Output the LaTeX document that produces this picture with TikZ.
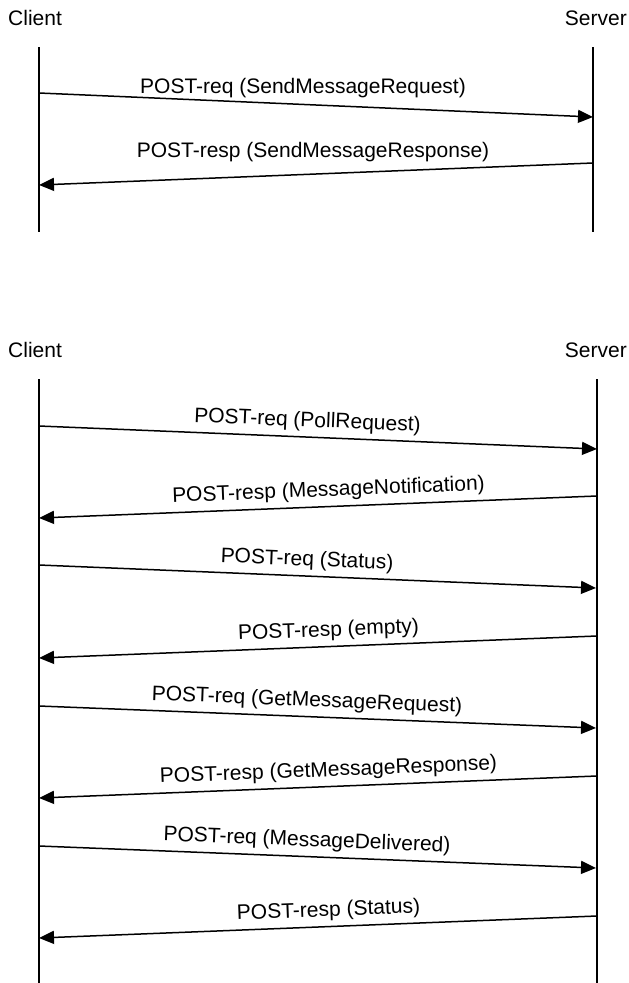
\documentclass[tikz,border=0pt]{standalone}
\usepackage{fontspec}
\setmainfont{Liberation Sans}
\usetikzlibrary{arrows.meta}
\begin{document}
\begin{tikzpicture}[x=1pt,y=-1pt,
  lifeline/.style={line width=1.6pt},
  msg/.style={line width=1.5pt,-{Triangle[length=15pt,width=13pt]}},
  lbl/.style={font=\fontsize{21}{25}\selectfont, inner sep=0pt},
  mlbl/.style={lbl, sloped, pos=0.48, above=5pt, text height=15pt, text depth=4.5pt}]
\useasboundingbox (0,0) rectangle (629,983);
% ---------- top diagram ----------
\node[lbl, anchor=base west] (tclient) at (8,25) {Client};
\node[lbl, anchor=base east] (tserver) at (627,25) {Server};
\coordinate (tct) at (39,47);  \coordinate (tcb) at (39,232);
\coordinate (tst) at (593,47); \coordinate (tsb) at (593,232);
\draw[lifeline] (tct) -- (tcb);
\draw[lifeline] (tst) -- (tsb);
\coordinate (tc1) at (39,93);  \coordinate (ts1) at (593,117);
\coordinate (ts2) at (593,163); \coordinate (tc2) at (39,185);
\draw[msg] (tc1) -- (ts1);
\draw[msg] (ts2) -- (tc2);
\node[lbl, anchor=base] (tl1) at (303,93) {POST-req (SendMessageRequest)};
\node[lbl, anchor=base] (tl2) at (313,157) {POST-resp (SendMessageResponse)};
% ---------- bottom diagram ----------
\node[lbl, anchor=base west] (bclient) at (8,357) {Client};
\node[lbl, anchor=base east] (bserver) at (627,357) {Server};
\coordinate (bct) at (39,379);  \coordinate (bcb) at (39,983);
\coordinate (bst) at (597,379); \coordinate (bsb) at (597,983);
\draw[lifeline] (bct) -- (bcb);
\draw[lifeline] (bst) -- (bsb);
% messages
\coordinate (c1) at (39,426); \coordinate (s1) at (597,449);
\coordinate (s2) at (597,496); \coordinate (c2) at (39,518);
\coordinate (c3) at (39,565); \coordinate (s3) at (596,588);
\coordinate (s4) at (597,636); \coordinate (c4) at (39,658);
\coordinate (c5) at (39,706); \coordinate (s5) at (596,728);
\coordinate (s6) at (597,776); \coordinate (c6) at (39,798);
\coordinate (c7) at (39,846); \coordinate (s7) at (596,868);
\coordinate (s8) at (597,916); \coordinate (c8) at (39,938);
\draw[msg] (c1) -- node[mlbl] (m1) {POST-req (PollRequest)} (s1);
\draw[msg] (s2) -- node[mlbl] (m2) {POST-resp (MessageNotification)} (c2);
\draw[msg] (c3) -- node[mlbl] (m3) {POST-req (Status)} (s3);
\draw[msg] (s4) -- node[mlbl] (m4) {POST-resp (empty)} (c4);
\draw[msg] (c5) -- node[mlbl] (m5) {POST-req (GetMessageRequest)} (s5);
\draw[msg] (s6) -- node[mlbl] (m6) {POST-resp (GetMessageResponse)} (c6);
\draw[msg] (c7) -- node[mlbl] (m7) {POST-req (MessageDelivered)} (s7);
\draw[msg] (s8) -- node[mlbl] (m8) {POST-resp (Status)} (c8);
\end{tikzpicture}
\end{document}
